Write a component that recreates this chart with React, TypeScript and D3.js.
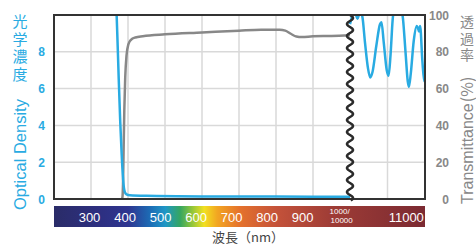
import React, { useEffect, useRef } from 'react';
import * as d3 from 'd3';

// optical density (blue), short-wave part: [wavelength nm, OD]
const odShort: [number, number][] = [
  [360, 12], [368, 10.6], [371, 9.0], [375, 6.5], [379, 4.2], [383, 2.4], [386, 1.3],
  [389, 0.6], [392, 0.35], [396, 0.25], [405, 0.2], [450, 0.17], [600, 0.14], [800, 0.13], [1000, 0.12],
];
// optical density (blue), long-wave part
const odLong: [number, number][] = [
  [10000, 9.5], [10050, 9.9], [10100, 10.4], [10200, 9.8], [10270, 10.2], [10330, 9.9], [10400, 8.5],
  [10480, 7.1], [10540, 6.6], [10600, 6.9], [10700, 8.3], [10800, 9.5], [10840, 9.6], [10900, 8.5],
  [10980, 7.0], [11030, 6.7], [11080, 7.8], [11140, 9.8], [11170, 10.3], [11250, 10.2], [11330, 10.4],
  [11400, 10.0], [11480, 8.0], [11540, 6.4], [11570, 6.1], [11620, 6.8], [11700, 8.6], [11780, 9.4],
  [11811, 9.3], [11840, 9.1], [11870, 9.4], [11930, 7.5], [11980, 6.4], [12000, 6.5],
];
// transmittance % (gray)
const trans: [number, number][] = [
  [383, 0], [385, 1], [386.5, 8], [388, 25], [390, 48], [392.5, 66], [396, 78], [401, 84], [408, 86.5],
  [420, 87.8], [440, 88.5], [500, 89.5], [600, 90.5], [700, 91.5], [760, 92], [810, 92], [825, 91.5],
  [840, 89.8], [855, 88.3], [870, 88], [900, 88.4], [950, 88.6], [1000, 89],
];

const odTicks = [0, 2, 4, 6, 8];
const tTicks = [0, 20, 40, 60, 80, 100];
const gridShort = [300, 400, 500, 600, 700, 800, 900];
const gridLong = [11000];
const barLabels = ['300', '400', '500', '600', '700', '800', '900'];

const BLUE = '#29abe2';
const GRAY = '#888888';
const FONT = '"Liberation Sans", Arial, sans-serif';
const JP = '"Noto Sans CJK JP", sans-serif';

export default function App() {
  const ref = useRef<SVGSVGElement>(null);

  useEffect(() => {
    const svg = d3.select(ref.current);
    svg.selectAll('*').remove();

    const left = 54, right = 425, top = 15, bottom = 199, brk = 350;
    const xS = d3.scaleLinear().domain([200, 1000]).range([left, brk]);
    const xL = d3.scaleLinear().domain([10000, 12000]).range([brk, right]);
    const y = d3.scaleLinear().domain([0, 10]).range([bottom, top]);
    const yT = d3.scaleLinear().domain([0, 100]).range([bottom, top]);

    const defs = svg.append('defs');
    defs.append('clipPath').attr('id', 'plot')
      .append('rect').attr('x', left).attr('y', top).attr('width', right - left).attr('height', bottom - top);

    const grad = defs.append('linearGradient').attr('id', 'spec').attr('x1', 0).attr('x2', 1).attr('y1', 0).attr('y2', 0);
    const stops: [number, string][] = [
      [0, '#2a2c68'], [0.12, '#2d2f80'], [0.2, '#2e3590'], [0.26, '#1c6db6'], [0.3, '#1f97c6'],
      [0.34, '#35a661'], [0.37, '#8cc43c'], [0.405, '#f2e020'], [0.44, '#f2a622'], [0.5, '#e5722c'],
      [0.6, '#c4523a'], [0.75, '#9e3c36'], [1, '#7b2a32'],
    ];
    stops.forEach(([o, c]) => grad.append('stop').attr('offset', o).attr('stop-color', c));

    // grid
    const g = svg.append('g').attr('stroke', '#d9d9d9').attr('stroke-width', 1.5);
    odTicks.filter(d => d > 0).forEach(d => {
      g.append('line').attr('x1', left).attr('x2', right).attr('y1', y(d)).attr('y2', y(d));
    });
    gridShort.forEach(d => g.append('line').attr('x1', xS(d)).attr('x2', xS(d)).attr('y1', top).attr('y2', bottom));
    gridLong.forEach(d => g.append('line').attr('x1', xL(d)).attr('x2', xL(d)).attr('y1', top).attr('y2', bottom));

    const plot = svg.append('g').attr('clip-path', 'url(#plot)');

    const lineS = d3.line<[number, number]>().x(d => xS(d[0])).y(d => y(d[1])).curve(d3.curveMonotoneX);
    const lineL = d3.line<[number, number]>().x(d => xL(d[0])).y(d => y(d[1])).curve(d3.curveMonotoneX);
    const lineT = d3.line<[number, number]>().x(d => xS(d[0])).y(d => yT(d[1])).curve(d3.curveMonotoneX);

    plot.append('path').attr('d', lineT(trans)).attr('fill', 'none').attr('stroke', GRAY).attr('stroke-width', 2.5);
    plot.append('path').attr('d', lineS(odShort)).attr('fill', 'none').attr('stroke', BLUE).attr('stroke-width', 2.5);
    plot.append('path').attr('d', lineL(odLong)).attr('fill', 'none').attr('stroke', BLUE).attr('stroke-width', 2.5);

    // frame
    svg.append('rect').attr('x', left).attr('y', top).attr('width', right - left).attr('height', bottom - top)
      .attr('fill', 'none').attr('stroke', '#333').attr('stroke-width', 2);

    // wavy axis break
    const wave = d3.range(top, bottom + 2, 0.5).map(v => [brk + 3 * Math.sin(((v - top) / 12) * 2 * Math.PI), v] as [number, number]);
    svg.append('path').attr('d', d3.line()(wave)).attr('fill', 'none').attr('stroke', '#2b2b2b').attr('stroke-width', 2.5);

    // spectrum bar
    svg.append('rect').attr('x', left).attr('y', 206).attr('width', right - left).attr('height', 21).attr('fill', 'url(#spec)');
    const bar = svg.append('g').attr('fill', '#fff').attr('font-family', FONT).attr('text-anchor', 'middle');
    barLabels.forEach((t) => {
      bar.append('text').attr('x', left + (xS(+t) - left) * 0.96).attr('y', 221.5).attr('font-size', 13).text(t);
    });
    const bx = left + (xS(1000) - left) * 0.965;
    bar.append('text').attr('x', bx).attr('y', 214).attr('font-size', 8).text('1000/');
    bar.append('text').attr('x', bx + 2).attr('y', 222.5).attr('font-size', 8).text('10000');
    bar.append('text').attr('x', (xL(11000) + right) / 2).attr('y', 221.5).attr('font-size', 13).text('11000');

    // left ticks
    odTicks.forEach(d => {
      svg.append('text').attr('x', 45).attr('y', y(d) + 4.5).attr('text-anchor', 'end')
        .attr('font-family', FONT).attr('font-weight', 'bold').attr('font-size', 12).attr('fill', BLUE).text(d);
    });
    // right ticks
    tTicks.forEach(d => {
      svg.append('text').attr('x', 449).attr('y', yT(d) + 4.5).attr('text-anchor', 'end')
        .attr('font-family', FONT).attr('font-weight', 'bold').attr('font-size', 12).attr('fill', GRAY).text(d);
    });

    // left title
    svg.append('text').attr('x', 20).attr('y', 14)
      .style('writing-mode', 'vertical-rl').attr('letter-spacing', 2.5)
      .attr('font-family', JP).attr('font-size', 15).attr('fill', BLUE).text('光学濃度');
    svg.append('text').attr('transform', 'translate(25.5,210) rotate(-90)')
      .attr('font-family', FONT).attr('font-size', 16.5).attr('fill', BLUE).text('Optical Density');

    // right title
    svg.append('text').attr('x', 467).attr('y', 15)
      .style('writing-mode', 'vertical-rl').attr('letter-spacing', 2.5)
      .attr('font-family', JP).attr('font-size', 14).attr('fill', GRAY).text('透過率');
    svg.append('text').attr('transform', 'translate(472.5,204) rotate(-90)')
      .attr('font-family', FONT).attr('font-size', 16).attr('fill', GRAY)
      .text('Transmittance')
      .append('tspan').attr('font-family', JP).attr('dx', 1).text('(%)');

    // x title
    svg.append('text').attr('x', 248).attr('y', 242).attr('text-anchor', 'middle')
      .attr('font-family', JP).attr('font-size', 13).attr('fill', '#444').text('波長（nm）');
  }, []);

  return <svg ref={ref} width={476} height={247} style={{ position: 'absolute', left: 0, top: 0 }} />;
}
